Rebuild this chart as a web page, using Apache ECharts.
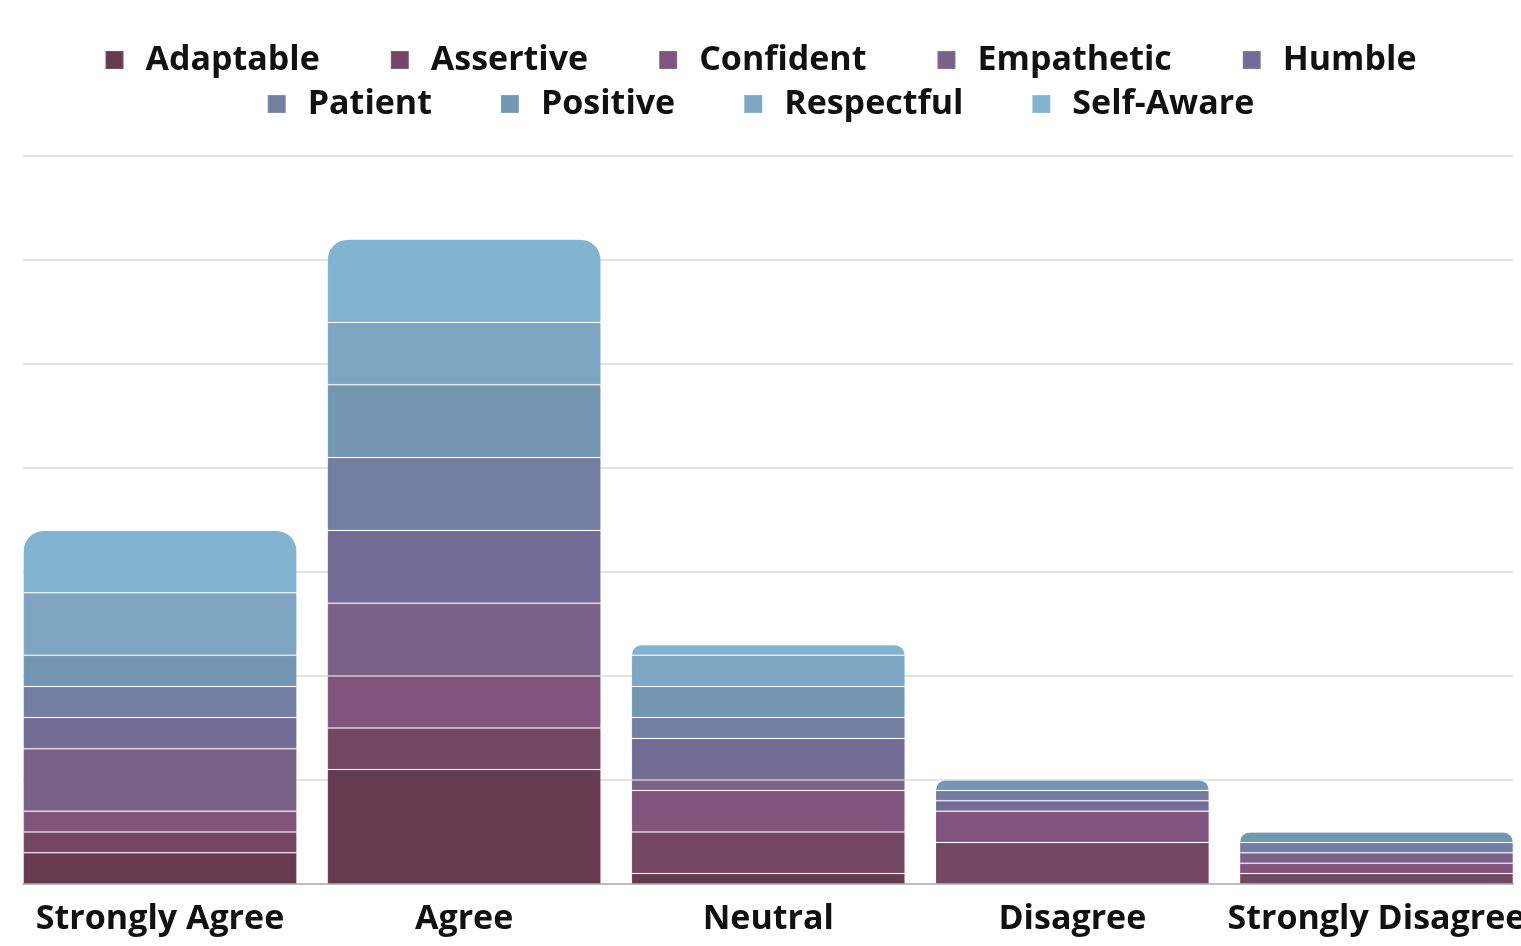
<!DOCTYPE html>
<html>
<head>
<meta charset="utf-8">
<script src="https://cdn.jsdelivr.net/npm/echarts@6/dist/echarts.min.js"></script>
<style>
    html, body { margin: 0; padding: 0; background: #fff; }
    #chart { width: 1521px; height: 946px; }
</style>
</head>
<body>
<div id="chart"></div>
<script>
// answers per level
var categories = ['Strongly Agree', 'Agree', 'Neutral', 'Disagree', 'Strongly Disagree'];
var traits = ['Adaptable', 'Assertive', 'Confident', 'Empathetic', 'Humble', 'Patient', 'Positive', 'Respectful', 'Self-Aware'];

var adaptable  = [3, 11, 1, 0, 0];
var assertive  = [2, 4, 4, 4, 1];
var confident  = [2, 5, 4, 3, 1];
var empathetic = [6, 7, 1, 0, 1];
var humble     = [3, 7, 4, 1, 0];
var patient    = [3, 7, 2, 1, 1];
var positive   = [3, 7, 3, 1, 1];
var respectful = [6, 6, 3, 0, 0];
var selfAware  = [6, 8, 1, 0, 0];

var yTicks = [0, 10, 20, 30, 40, 50, 60, 70];

var colors = ['#673a4f', '#744763', '#80547c', '#7a6188', '#736c94', '#737fa2', '#7397b0', '#7ea5c1', '#82b3d1'];
var allData = [adaptable, assertive, confident, empathetic, humble, patient, positive, respectful, selfAware];

var chart = echarts.init(document.getElementById('chart'));

// which series is on top of each stack -> gets the rounded corners
var topIdx = categories.map(function (c, j) {
    var t = 0;
    allData.forEach(function (arr, i) { if (arr[j] > 0) t = i; });
    return t;
});

var series = traits.map(function (name, i) {
    return {
        name: name,
        type: 'bar',
        stack: 'all',
        xAxisIndex: 1,
        yAxisIndex: 1,
        barWidth: '90%',
        color: colors[i],
        itemStyle: {
            borderColor: 'rgba(255,255,255,0.12)',
            borderWidth: 1
        },
        data: allData[i].map(function (v, j) {
            var d = { value: v };
            if (topIdx[j] === i) {
                d.itemStyle = { borderRadius: [20, 20, 0, 0] };
            }
            return d;
        })
    };
});

var legendText = {
    fontFamily: 'Open Sans',
    fontWeight: 'bold',
    fontSize: 34,
    color: '#111',
    padding: [0, 0, 0, 17]
};

chart.setOption({
    animation: false,
    legend: [
        {
            data: traits.slice(0, 5),
            top: 38,
            left: 'center',
            itemGap: 70,
            itemWidth: 18,
            itemHeight: 18,
            icon: 'rect',
            textStyle: legendText
        },
        {
            data: traits.slice(5),
            top: 82,
            left: 'center',
            itemGap: 68,
            itemWidth: 18,
            itemHeight: 18,
            icon: 'rect',
            textStyle: legendText
        }
    ],
    grid: [
        { left: 23, right: 8, top: 156, bottom: 62, outerBoundsMode: 'none' },
        { left: 8, width: 1520.5, top: 156, bottom: 62, outerBoundsMode: 'none' }
    ],
    xAxis: [
        {
            gridIndex: 0,
            type: 'category',
            data: categories,
            axisLine: { show: true, lineStyle: { color: '#bdbdbd', width: 2 } },
            axisTick: { show: false },
            axisLabel: { show: false }
        },
        {
            gridIndex: 1,
            type: 'category',
            data: categories,
            axisLine: { show: false },
            axisTick: { show: false },
            axisLabel: {
                interval: 0,
                hideOverlap: false,
                margin: 18,
                fontFamily: 'Open Sans',
                fontWeight: 'bold',
                fontSize: 34,
                color: '#111'
            }
        }
    ],
    yAxis: [
        {
            gridIndex: 0,
            type: 'value',
            min: yTicks[0],
            max: yTicks[yTicks.length - 1],
            interval: 10,
            axisLabel: { show: false },
            axisLine: { show: false },
            axisTick: { show: false },
            splitLine: { lineStyle: { color: '#e4e4e4', width: 2 } }
        },
        {
            gridIndex: 1,
            type: 'value',
            min: yTicks[0],
            max: yTicks[yTicks.length - 1],
            interval: 10,
            axisLabel: { show: false },
            axisLine: { show: false },
            axisTick: { show: false },
            splitLine: { show: false }
        }
    ],
    series: series
});
</script>
</body>
</html>
